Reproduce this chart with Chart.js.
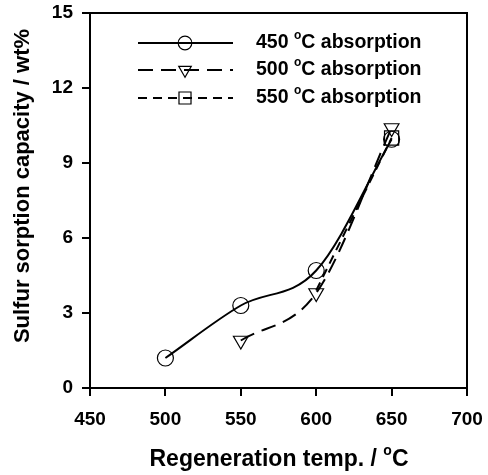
<!DOCTYPE html>
<html>
<head>
<meta charset="utf-8">
<script src="https://cdn.jsdelivr.net/npm/chart.js@4"></script>
<style>
  html, body { margin: 0; padding: 0; background: #fff; }
  canvas { display: block; }
</style>
</head>
<body>
<canvas id="chart-sorption" width="488" height="475"></canvas>
<script>
// regeneration temperatures (x) and sorption capacities (wt%)
let temps = [500, 550, 600, 650];
let abs450 = [1.2, 3.3, 4.7, 9.95];
let abs500 = [null, 1.9, 3.8, 10.4];
let abs550 = [null, null, 3.9, 10.0];
let seriesNames = ['450', '500', '550'];
let xTicks = [450, 500, 550, 600, 650, 700];
let yTicks = [0, 3, 6, 9, 12, 15];

const FONT = "'Liberation Sans', Arial, sans-serif";

function toPoints(arr) {
  return temps.map((t, i) => ({x: t, y: arr[i]})).filter(p => p.y !== null);
}

// text with a raised small "o" before C
function drawDegText(ctx, before, after, x, y, size, align) {
  ctx.font = 'bold ' + size + 'px ' + FONT;
  let w1 = ctx.measureText(before).width;
  let w3 = ctx.measureText(after).width;
  ctx.font = 'bold ' + Math.round(size * 0.62) + 'px ' + FONT;
  let w2 = ctx.measureText('o').width;
  let start = align === 'center' ? x - (w1 + w2 + w3) / 2 : x;
  ctx.textAlign = 'left';
  ctx.textBaseline = 'middle';
  ctx.font = 'bold ' + size + 'px ' + FONT;
  ctx.fillText(before, start, y);
  ctx.font = 'bold ' + Math.round(size * 0.62) + 'px ' + FONT;
  ctx.fillText('o', start + w1, y - size * 0.38);
  ctx.font = 'bold ' + size + 'px ' + FONT;
  ctx.fillText(after, start + w1 + w2, y);
}

const framePlugin = {
  id: 'frame',
  afterDraw(chart) {
    const ctx = chart.ctx;
    const a = chart.chartArea;
    ctx.save();
    ctx.strokeStyle = '#000';
    ctx.lineWidth = 2;
    ctx.strokeRect(a.left, a.top, a.right - a.left, a.bottom - a.top);

    // axis titles
    ctx.fillStyle = '#000';
    drawDegText(ctx, 'Regeneration temp. / ', 'C', 279, 460, 23, 'center');
    ctx.translate(23, 186);
    ctx.rotate(-Math.PI / 2);
    ctx.font = 'bold 22px ' + FONT;
    ctx.textAlign = 'center';
    ctx.textBaseline = 'middle';
    ctx.fillText('Sulfur sorption capacity / wt%', 0, 0);
    ctx.restore();

    // legend
    const rows = [43, 70, 98];
    chart.data.datasets.forEach((ds, i) => {
      const y = rows[i];
      ctx.save();
      ctx.strokeStyle = '#000';
      ctx.lineWidth = 2;
      ctx.setLineDash(ds.borderDash || []);
      ctx.beginPath();
      ctx.moveTo(138, y);
      ctx.lineTo(233, y);
      ctx.stroke();
      ctx.setLineDash([]);
      ctx.lineWidth = 1.2;
      ctx.fillStyle = 'rgba(0,0,0,0)';
      const r = Array.isArray(ds.pointRadius) ? ds.pointRadius[ds.pointRadius.length - 1] : ds.pointRadius;
      Chart.helpers.drawPoint(ctx, {
        pointStyle: ds.pointStyle, rotation: ds.pointRotation || 0,
        radius: r * 0.85, borderWidth: 1.2
      }, 185, y);
      ctx.fillStyle = '#000';
      drawDegText(ctx, seriesNames[i] + ' ', 'C absorption', 256, y, 19.5, 'left');
      ctx.restore();
    });
  }
};

let ctx = document.getElementById('chart-sorption');
let myChart = new Chart(ctx, {
  type: 'line',
  data: {
    datasets: [
      {
        label: '450 °C absorption',
        data: toPoints(abs450),
        borderColor: '#000', borderWidth: 2,
        pointStyle: 'circle', pointRadius: 8,
        pointBackgroundColor: 'rgba(0,0,0,0)', pointBorderColor: '#000', pointBorderWidth: 1.2,
        cubicInterpolationMode: 'monotone'
      },
      {
        label: '500 °C absorption',
        data: toPoints(abs500),
        borderColor: '#000', borderWidth: 2, borderDash: [15, 8],
        pointStyle: 'triangle', pointRotation: 180, pointRadius: 8.5,
        pointBackgroundColor: 'rgba(0,0,0,0)', pointBorderColor: '#000', pointBorderWidth: 1.2,
        cubicInterpolationMode: 'monotone'
      },
      {
        label: '550 °C absorption',
        data: toPoints(abs550),
        borderColor: '#000', borderWidth: 2, borderDash: [9, 6],
        pointStyle: 'rect', pointRadius: [0, 10],
        pointBackgroundColor: 'rgba(0,0,0,0)', pointBorderColor: '#000', pointBorderWidth: 1.2,
        cubicInterpolationMode: 'monotone'
      }
    ]
  },
  options: {
    responsive: false,
    animation: false,
    layout: { padding: { left: 0, top: 13, right: 21, bottom: 0 } },
    plugins: { legend: { display: false }, tooltip: { enabled: false } },
    scales: {
      x: {
        type: 'linear', min: 450, max: 700,
        afterBuildTicks: s => { s.ticks = xTicks.map(v => ({value: v})); },
        afterFit: s => { s.height = 87; s.paddingLeft = 0; s.paddingRight = 0; },
        ticks: { color: '#000', font: { family: FONT, size: 19, weight: 'bold' }, padding: 12 },
        grid: { drawOnChartArea: false, drawTicks: true, tickLength: 8, color: '#000', lineWidth: 2 },
        border: { display: true, color: '#000', width: 2 }
      },
      y: {
        type: 'linear', min: 0, max: 15,
        afterBuildTicks: s => { s.ticks = yTicks.map(v => ({value: v})); },
        afterFit: s => { s.width = 90; s.paddingTop = 0; s.paddingBottom = 0; },
        ticks: { color: '#000', font: { family: FONT, size: 19, weight: 'bold' }, padding: 9 },
        grid: { drawOnChartArea: false, drawTicks: true, tickLength: 8, color: '#000', lineWidth: 2 },
        border: { display: true, color: '#000', width: 2 }
      }
    }
  },
  plugins: [framePlugin]
});
</script>
</body>
</html>
